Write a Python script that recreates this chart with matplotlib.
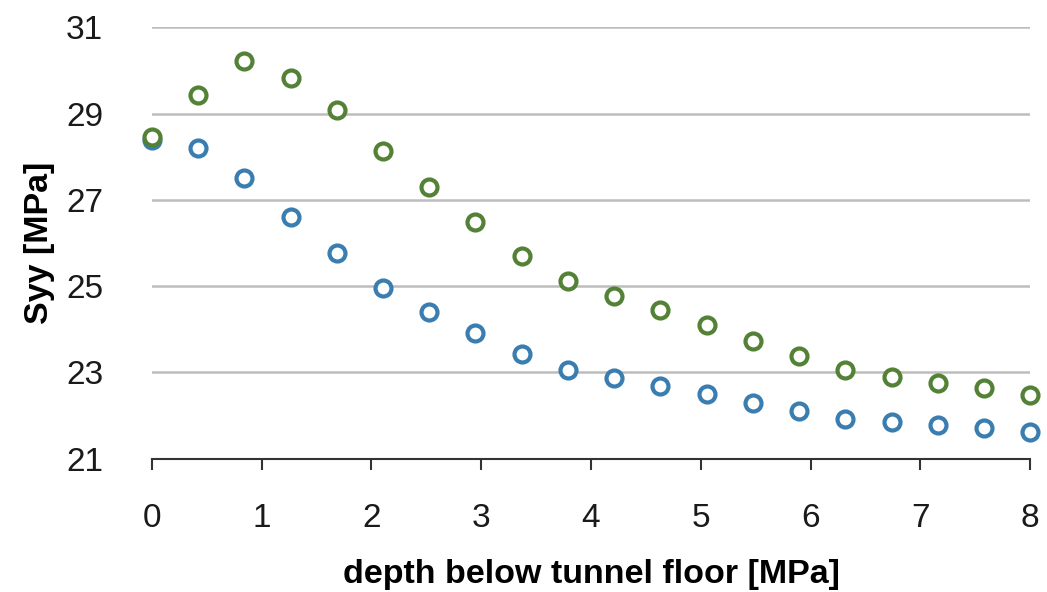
import matplotlib
matplotlib.use("Agg")
import matplotlib.pyplot as plt

# depth steps (20 points from 0 to 8)
depth = [i * 8 / 19 for i in range(20)]

syy_blue = [28.38, 28.20, 27.50, 26.60, 25.77, 24.96, 24.40, 23.92, 23.43, 23.06,
            22.88, 22.69, 22.50, 22.30, 22.11, 21.93, 21.86, 21.79, 21.72, 21.62]
syy_green = [28.45, 29.43, 30.21, 29.82, 29.08, 28.13, 27.30, 26.49, 25.70, 25.12,
             24.77, 24.45, 24.10, 23.73, 23.38, 23.06, 22.90, 22.76, 22.64, 22.48]

xticks = [0, 1, 2, 3, 4, 5, 6, 7, 8]
yticks = [21, 23, 25, 27, 29, 31]

plt.rcParams['font.family'] = ['Liberation Sans', 'DejaVu Sans']

fig = plt.figure(figsize=(10.47, 5.92), dpi=100)
ax = fig.add_axes([0.145, 0.225, 0.839, 0.729])

ax.plot(depth, syy_blue, 'o', markersize=11.5, markerfacecolor='white',
        markeredgecolor='#3A7DB0', markeredgewidth=3, clip_on=False, zorder=3)
ax.plot(depth, syy_green, 'o', markersize=11.5, markerfacecolor='white',
        markeredgecolor='#538135', markeredgewidth=3, clip_on=False, zorder=4)

ax.set_xlim(0, 8)
ax.set_ylim(21, 31)
ax.set_xticks(xticks)
ax.set_yticks(yticks)
ax.yaxis.grid(True, color='#BDBDBD', linewidth=1.8)
ax.set_axisbelow(True)

for s in ['top', 'right', 'left']:
    ax.spines[s].set_visible(False)
ax.spines['bottom'].set_color('#333333')
ax.spines['bottom'].set_linewidth(1.5)

ax.tick_params(axis='x', direction='out', length=8, width=1.5, color='#333333',
               labelsize=24, labelcolor='#1a1a1a', pad=24)
ax.tick_params(axis='y', length=0, labelsize=24, labelcolor='#1a1a1a', pad=35)

ax.set_xlabel('depth below tunnel floor [MPa]', fontsize=24.5, fontweight='bold', labelpad=18)
ax.set_ylabel('Syy [MPa]', fontsize=24.5, fontweight='bold', labelpad=8)

fig.savefig('out.png', dpi=100)
